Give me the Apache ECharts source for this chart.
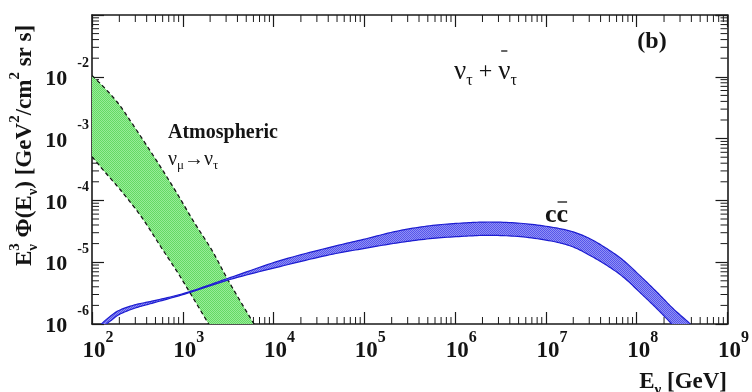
<!DOCTYPE html>
<html>
<head>
<meta charset="utf-8">
<title>Tau neutrino flux</title>
<script src="https://cdn.jsdelivr.net/npm/echarts@6.0.0/dist/echarts.min.js"></script>
<style>
  html, body { margin: 0; padding: 0; background: #ffffff; }
  #chart { width: 752px; height: 392px; }
</style>
</head>
<body>
<div id="chart"></div>
<script>
// ---- axis ranges ----
const energyMin = 1e2, energyMax = 1e9;   // GeV
const fluxMin = 1e-6, fluxMax = 1e-1;     // GeV^2 / (cm^2 sr s)

// decades that carry minor ticks, and the mantissas of those ticks
const energyDecades = [2, 3, 4, 5, 6, 7, 8];
const fluxDecades = [-6, -5, -4, -3, -2];
const minorMantissas = [2, 3, 4, 5, 6, 7, 8, 9];

// ---- atmospheric nu_mu -> nu_tau oscillation band ----
const atmUpperE    = [100, 135, 195, 275, 380, 575, 850, 1350, 2100, 3160, 5750, 6600];
const atmUpperFlux = [1.05e-2, 6.8e-3, 3.7e-3, 1.78e-3, 8.7e-4, 3.4e-4, 1.35e-4, 4.3e-5, 1.55e-5, 5.1e-6, 1.15e-6, 8.3e-7];
const atmLowerE    = [100, 141, 195, 340, 590, 890, 1150, 1820, 2000];
const atmLowerFlux = [5.1e-4, 2.8e-4, 1.62e-4, 5.75e-5, 1.66e-5, 6.6e-6, 3.55e-6, 1.15e-6, 9.1e-7];

// ---- prompt (charm) band ----
const charmUpperE    = [120, 129, 166, 195, 295, 457, 1050, 3310, 11750, 41700, 97700, 2.24e5, 5.25e5, 1.26e6, 2.40e6, 5.62e6, 1.29e7, 2.0e7, 3.02e7, 4.68e7, 7.08e7, 1.07e8, 1.66e8, 2.51e8, 3.8e8, 4.17e8];
const charmUpperFlux = [8.7e-7, 1.02e-6, 1.40e-6, 1.64e-6, 2.04e-6, 2.34e-6, 3.16e-6, 5.62e-6, 1.06e-5, 1.74e-5, 2.34e-5, 3.16e-5, 3.89e-5, 4.32e-5, 4.47e-5, 4.23e-5, 3.59e-5, 3.09e-5, 2.42e-5, 1.66e-5, 1.08e-5, 6.17e-6, 3.31e-6, 1.78e-6, 1.03e-6, 8.7e-7];
const charmLowerE    = [135, 145, 166, 195, 295, 457, 1050, 3310, 11750, 41700, 97700, 2.24e5, 5.25e5, 1.26e6, 2.40e6, 5.62e6, 1.29e7, 2.0e7, 3.02e7, 4.68e7, 7.08e7, 1.07e8, 1.66e8, 2.40e8, 2.63e8];
const charmLowerFlux = [8.3e-7, 1.0e-6, 1.17e-6, 1.40e-6, 1.80e-6, 2.16e-6, 3.05e-6, 5.25e-6, 8.5e-6, 1.32e-5, 1.66e-5, 2.04e-5, 2.40e-5, 2.63e-5, 2.72e-5, 2.56e-5, 2.12e-5, 1.76e-5, 1.30e-5, 8.9e-6, 5.78e-6, 3.31e-6, 1.78e-6, 1.02e-6, 8.7e-7];

// ---- styling ----
const INK = '#141414';
const AXIS = '#1a1a1a';
const SERIF = '"Liberation Serif", "Times New Roman", "DejaVu Serif", serif';

// fine checker hatch used for the shaded bands
function hatch(dark, light) {
  const c = document.createElement('canvas');
  c.width = 2; c.height = 2;
  const g = c.getContext('2d');
  g.fillStyle = light; g.fillRect(0, 0, 2, 2);
  g.fillStyle = dark; g.fillRect(0, 0, 1, 1); g.fillRect(1, 1, 1, 1);
  return { image: c, repeat: 'repeat' };
}

// text measuring for hand-set titles with sub/superscripts
const measureCtx = document.createElement('canvas').getContext('2d');
function fontOf(size, bold) { return (bold ? 'bold ' : '') + size + 'px ' + SERIF; }
function widthOf(text, size, bold) { measureCtx.font = fontOf(size, bold); return measureCtx.measureText(text).width; }

// lays pieces out left to right around a centre line (y = 0); dy raises/lowers a piece,
// stack keeps the pen in place so the next piece sits under/over it, bar draws an overline
function textRun(pieces, color) {
  const els = [];
  let x = 0, held = 0;
  pieces.forEach(p => {
    const w = widthOf(p.t, p.size, p.bold);
    els.push({
      type: 'text', x: x, y: p.dy || 0,
      style: { text: p.t, font: fontOf(p.size, p.bold), fill: color,
               align: 'left', verticalAlign: 'middle', textAlign: 'left', textVerticalAlign: 'middle' }
    });
    if (p.bar) {
      els.push({ type: 'line',
        shape: { x1: x + p.bar[0], y1: p.bar[2], x2: x + w + p.bar[1], y2: p.bar[2] },
        style: { stroke: color, lineWidth: 1.3 } });
    }
    if (p.stack) { held = Math.max(held, w); }
    else { x += Math.max(w, held); held = 0; }
  });
  return { els, width: x };
}

// centripetal Catmull-Rom through pixel points, so curves pass through every data point
function smoothPath(pts, steps) {
  if (pts.length < 3) return pts.slice();
  const n = pts.length;
  const P = [[2 * pts[0][0] - pts[1][0], 2 * pts[0][1] - pts[1][1]], ...pts,
             [2 * pts[n - 1][0] - pts[n - 2][0], 2 * pts[n - 1][1] - pts[n - 2][1]]];
  const knot = (a, b) => Math.max(Math.sqrt(Math.hypot(b[0] - a[0], b[1] - a[1])), 1e-4);
  const mix = (a, b, wa, wb) => [a[0] * wa + b[0] * wb, a[1] * wa + b[1] * wb];
  const out = [pts[0]];
  for (let i = 1; i < P.length - 2; i++) {
    const p0 = P[i - 1], p1 = P[i], p2 = P[i + 1], p3 = P[i + 2];
    const t0 = 0, t1 = t0 + knot(p0, p1), t2 = t1 + knot(p1, p2), t3 = t2 + knot(p2, p3);
    for (let s = 1; s <= steps; s++) {
      const t = t1 + (t2 - t1) * s / steps;
      const A1 = mix(p0, p1, (t1 - t) / (t1 - t0), (t - t0) / (t1 - t0));
      const A2 = mix(p1, p2, (t2 - t) / (t2 - t1), (t - t1) / (t2 - t1));
      const A3 = mix(p2, p3, (t3 - t) / (t3 - t2), (t - t2) / (t3 - t2));
      const B1 = mix(A1, A2, (t2 - t) / (t2 - t0), (t - t0) / (t2 - t0));
      const B2 = mix(A2, A3, (t3 - t) / (t3 - t1), (t - t1) / (t3 - t1));
      out.push(mix(B1, B2, (t2 - t) / (t2 - t1), (t - t1) / (t2 - t1)));
    }
  }
  return out;
}

// a shaded band between an upper and a lower edge, with its two edge lines
function band(upE, upF, loE, loF, look, z) {
  return {
    type: 'custom', coordinateSystem: 'cartesian2d', xAxisIndex: 0, yAxisIndex: 0,
    silent: true, clip: true, z: z,
    data: [[upE[0], upF[0]]],
    renderItem(params, api) {
      const up = smoothPath(upE.map((e, i) => api.coord([e, upF[i]])), 12);
      const lo = smoothPath(loE.map((e, i) => api.coord([e, loF[i]])), 12);
      const cs = params.coordSys;
      const edge = { stroke: look.edge, lineWidth: look.width, fill: null, lineDash: look.dash || null };
      return {
        type: 'group',
        clipPath: { type: 'rect', shape: { x: cs.x, y: cs.y, width: cs.width, height: cs.height } },
        children: [
          { type: 'polygon', shape: { points: up.concat(lo.slice().reverse()) }, style: { fill: look.fill, stroke: null } },
          { type: 'polyline', shape: { points: up }, style: edge },
          { type: 'polyline', shape: { points: lo }, style: edge }
        ]
      };
    }
  };
}

// minor log ticks on all four frame sides
const energyMinor = [];
energyDecades.forEach(d => minorMantissas.forEach(m => energyMinor.push(m * Math.pow(10, d))));
const fluxMinor = [];
fluxDecades.forEach(d => minorMantissas.forEach(m => fluxMinor.push(m * Math.pow(10, d))));

const MINOR_LEN = 7;
function minorTicks(values, dim) {
  return {
    type: 'custom', coordinateSystem: 'cartesian2d', xAxisIndex: 0, yAxisIndex: 0,
    silent: true, z: 1,
    data: values.map(v => dim === 'x' ? [v, fluxMin] : [energyMin, v]),
    renderItem(params, api) {
      const cs = params.coordSys;
      const p = api.coord([api.value(0), api.value(1)]);
      const st = { stroke: AXIS, lineWidth: 1 };
      if (dim === 'x') {
        const b = cs.y + cs.height, t = cs.y;
        return { type: 'group', children: [
          { type: 'line', shape: { x1: p[0], y1: b, x2: p[0], y2: b - MINOR_LEN }, style: st },
          { type: 'line', shape: { x1: p[0], y1: t, x2: p[0], y2: t + MINOR_LEN }, style: st }
        ] };
      }
      const l = cs.x, r = cs.x + cs.width;
      return { type: 'group', children: [
        { type: 'line', shape: { x1: l, y1: p[1], x2: l + MINOR_LEN, y2: p[1] }, style: st },
        { type: 'line', shape: { x1: r, y1: p[1], x2: r - MINOR_LEN, y2: p[1] }, style: st }
      ] };
    }
  };
}

const exponentOf = v => Math.round(Math.log10(v));

const axisBase = {
  type: 'log', logBase: 10,
  axisLine: { show: true, onZero: false, lineStyle: { color: AXIS, width: 1.6 } },
  axisTick: { show: true, inside: true, length: 12, lineStyle: { color: AXIS, width: 1.2 } },
  splitLine: { show: false },
  minorTick: { show: false },
  minorSplitLine: { show: false }
};

const xLabel = {
  show: true, margin: 6, color: INK,
  formatter: v => '{sp|}{b|10}{s|' + exponentOf(v) + '}',
  rich: {
    sp: { width: 12 },
    b: { fontFamily: SERIF, fontWeight: 'bold', fontSize: 23, color: INK, verticalAlign: 'bottom' },
    s: { fontFamily: SERIF, fontWeight: 'bold', fontSize: 16, color: INK, verticalAlign: 'bottom', padding: [0, 0, 17, 0] }
  }
};

const yLabel = {
  show: true, margin: 3, color: INK, showMaxLabel: false,
  formatter: v => exponentOf(v) >= -1 ? '' : '{b|10}{s|' + exponentOf(v) + '}',
  rich: {
    b: { fontFamily: SERIF, fontWeight: 'bold', fontSize: 22, color: INK, verticalAlign: 'bottom', padding: [0, 10, 6.5, 0] },
    s: { fontFamily: SERIF, fontWeight: 'bold', fontSize: 14, color: INK, verticalAlign: 'bottom', padding: [0, 0, 26, 0] }
  }
};

// ---- titles and annotations ----
const yTitle = textRun([
  { t: 'E', size: 23, bold: true },
  { t: '3', size: 15, bold: true, dy: -10, stack: true },
  { t: 'ν', size: 15, bold: true, dy: 8 },
  { t: ' Φ(E', size: 23, bold: true },
  { t: 'ν', size: 15, bold: true, dy: 8 },
  { t: ') [GeV', size: 23, bold: true },
  { t: '2', size: 15, bold: true, dy: -10 },
  { t: '/cm', size: 23, bold: true },
  { t: '2', size: 15, bold: true, dy: -10 },
  { t: ' sr s]', size: 23, bold: true }
], INK);

const xTitle = textRun([
  { t: 'E', size: 23, bold: true },
  { t: 'ν', size: 15, bold: true, dy: 8 },
  { t: ' [GeV]', size: 23, bold: true }
], INK);

const flavourLabel = textRun([
  { t: 'ν', size: 27 },
  { t: 'τ', size: 16, dy: 9 },
  { t: ' + ', size: 24 },
  { t: 'ν', size: 27, bar: [3, -3, -21] },
  { t: 'τ', size: 16, dy: 9 }
], INK);

const oscLabel = textRun([
  { t: 'ν', size: 20 },
  { t: 'μ', size: 13, dy: 6 },
  { t: '→', size: 20 },
  { t: 'ν', size: 20 },
  { t: 'τ', size: 13, dy: 6 }
], INK);

const charmLabel = textRun([
  { t: 'c', size: 26, bold: true },
  { t: 'c', size: 26, bold: true, bar: [1, -1, -13] }
], INK);

const chart = echarts.init(document.getElementById('chart'), null, { renderer: 'canvas' });

chart.setOption({
  animation: false,
  backgroundColor: '#ffffff',
  grid: { left: 92, right: 24, top: 15, bottom: 68, containLabel: false },
  xAxis: [
    Object.assign({}, axisBase, { position: 'bottom', min: energyMin, max: energyMax, splitNumber: 7, axisLabel: xLabel }),
    Object.assign({}, axisBase, { position: 'top', min: energyMin, max: energyMax, splitNumber: 7, axisLabel: { show: false } })
  ],
  yAxis: [
    Object.assign({}, axisBase, { position: 'left', min: fluxMin, max: fluxMax, splitNumber: 5, axisLabel: yLabel }),
    Object.assign({}, axisBase, { position: 'right', min: fluxMin, max: fluxMax, splitNumber: 5, axisLabel: { show: false } })
  ],
  series: [
    minorTicks(energyMinor, 'x'),
    minorTicks(fluxMinor, 'y'),
    band(atmUpperE, atmUpperFlux, atmLowerE, atmLowerFlux,
         { fill: hatch('#64da64', '#98ec98'), edge: INK, width: 1.3, dash: [4, 3] }, 2),
    band(charmUpperE, charmUpperFlux, charmLowerE, charmLowerFlux,
         { fill: hatch('#5656ea', '#9090f6'), edge: '#1c1cd0', width: 1.2 }, 4)
  ],
  graphic: [
    { type: 'group', x: 25.5, y: 266, rotation: Math.PI / 2, children: yTitle.els },
    { type: 'group', x: 727 - xTitle.width, y: 382, children: xTitle.els },
    { type: 'group', x: 454, y: 72, children: flavourLabel.els },
    { type: 'group', x: 168, y: 160, children: oscLabel.els },
    { type: 'group', x: 545, y: 215, children: charmLabel.els },
    { type: 'text', x: 168, y: 133,
      style: { text: 'Atmospheric', font: fontOf(20, true), fill: INK,
               align: 'left', verticalAlign: 'middle', textAlign: 'left', textVerticalAlign: 'middle' } },
    { type: 'text', x: 652, y: 42,
      style: { text: '(b)', font: fontOf(24, true), fill: INK,
               align: 'center', verticalAlign: 'middle', textAlign: 'center', textVerticalAlign: 'middle' } }
  ]
});
</script>
</body>
</html>
